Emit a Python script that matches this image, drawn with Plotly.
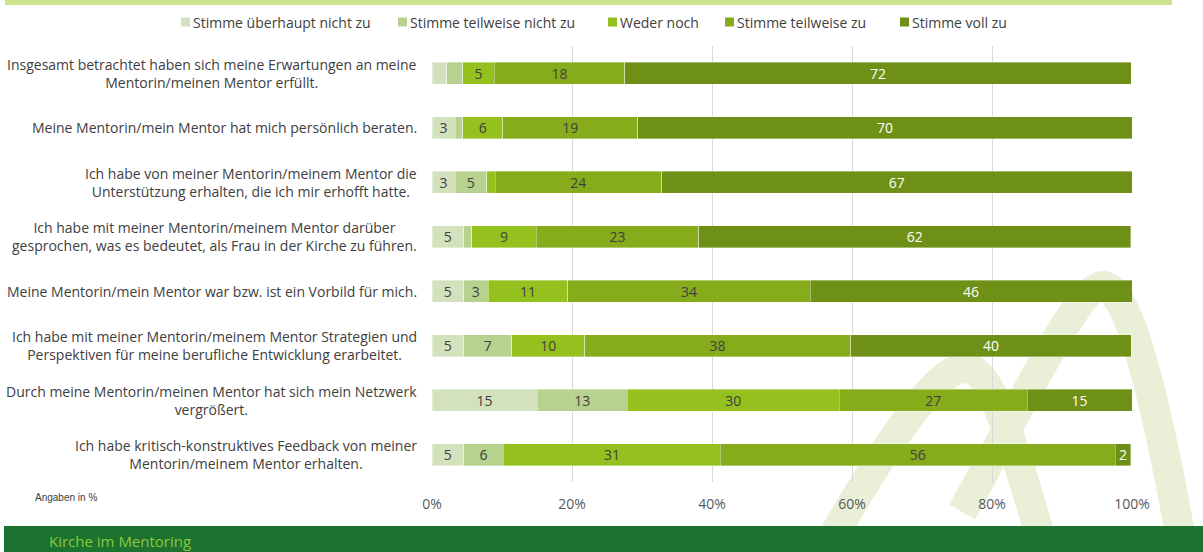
import plotly.graph_objects as go

# ---------------- data ----------------
categories = [
    "Insgesamt betrachtet haben sich meine Erwartungen an meine<br>Mentorin/meinen Mentor erfüllt.",
    "Meine Mentorin/mein Mentor hat mich persönlich beraten.",
    "Ich habe von meiner Mentorin/meinem Mentor die<br>Unterstützung erhalten, die ich mir erhofft hatte.",
    "Ich habe mit meiner Mentorin/meinem Mentor darüber<br>gesprochen, was es bedeutet, als Frau in der Kirche zu führen.",
    "Meine Mentorin/mein Mentor war bzw. ist ein Vorbild für mich.",
    "Ich habe mit meiner Mentorin/meinem Mentor Strategien und<br>Perspektiven für meine berufliche Entwicklung erarbeitet.",
    "Durch meine Mentorin/meinen Mentor hat sich mein Netzwerk<br>vergrößert.",
    "Ich habe kritisch-konstruktives Feedback von meiner<br>Mentorin/meinem Mentor erhalten.",
]

series_names = [
    "Stimme überhaupt nicht zu",
    "Stimme teilweise nicht zu",
    "Weder noch",
    "Stimme teilweise zu",
    "Stimme voll zu",
]

v_ueberhaupt_nicht = [2.1, 3.3, 3.3, 4.5, 4.5, 4.5, 15.0, 4.5]
v_teilweise_nicht = [2.3, 1.1, 4.5, 1.2, 3.5, 6.9, 12.9, 5.7]
v_weder_noch = [4.5, 5.7, 1.2, 9.2, 11.4, 10.4, 30.3, 31.0]
v_teilweise_zu = [18.6, 19.3, 23.8, 23.2, 34.6, 38.0, 26.8, 56.4]
v_voll_zu = [72.4, 70.6, 67.2, 61.7, 46.0, 40.1, 15.0, 2.2]

l_ueberhaupt_nicht = ["", "3", "3", "5", "5", "5", "15", "5"]
l_teilweise_nicht = ["", "", "5", "", "3", "7", "13", "6"]
l_weder_noch = ["5", "6", "", "9", "11", "10", "30", "31"]
l_teilweise_zu = ["18", "19", "24", "23", "34", "38", "27", "56"]
l_voll_zu = ["72", "70", "67", "62", "46", "40", "15", "2"]

tick_vals = [0, 20, 40, 60, 80, 100]
tick_text = ["0%", "20%", "40%", "60%", "80%", "100%"]

# ---------------- style ----------------
colors = ["#D3E1BD", "#B6D28E", "#95C11F", "#86AB1B", "#6F9017"]
label_colors = ["#404040", "#404040", "#404040", "#404040", "#FFFFFF"]
FONT = "Open Sans, Liberation Sans, Arial, sans-serif"

WIDTH, HEIGHT = 1203, 552
L, R, T, B = 432, 71, 46, 70
PW = WIDTH - L - R
PH = HEIGHT - T - B

legend_marker_px = [181, 398, 608, 725, 900]   # layout: left edge of each legend swatch
LEGEND_Y = 22


def px_x(p):
    return (p - L) / PW


def px_y(p):
    return (HEIGHT - B - p) / PH


values = [v_ueberhaupt_nicht, v_teilweise_nicht, v_weder_noch, v_teilweise_zu, v_voll_zu]
labels = [l_ueberhaupt_nicht, l_teilweise_nicht, l_weder_noch, l_teilweise_zu, l_voll_zu]

fig = go.Figure()
for name, vals, labs, col, lcol in zip(series_names, values, labels, colors, label_colors):
    fig.add_trace(go.Bar(
        y=categories, x=vals, name=name, orientation="h",
        marker=dict(color=col, line=dict(color="rgba(255,255,255,0.45)", width=0.8)),
        text=labs, textposition="inside", insidetextanchor="middle", textangle=0,
        textfont=dict(family=FONT, size=14, color=lcol),
        hoverinfo="skip", showlegend=False,
    ))

annotations = []
shapes = []

# category labels (centered multi-line, right aligned block)
for c in categories:
    annotations.append(dict(
        x=0, xref="paper", y=c, yref="y", text=c, showarrow=False,
        xanchor="right", xshift=-13, align="center",
        font=dict(family=FONT, size=14, color="#404040"),
    ))

# legend (drawn manually for compact spacing)
for name, col, mx in zip(series_names, colors, legend_marker_px):
    shapes.append(dict(type="rect", xref="paper", yref="paper",
                       x0=px_x(mx), x1=px_x(mx + 9),
                       y0=px_y(LEGEND_Y - 4.5), y1=px_y(LEGEND_Y + 4.5),
                       fillcolor=col, line=dict(width=0), layer="above"))
    annotations.append(dict(
        x=px_x(mx + 10), xref="paper", y=px_y(LEGEND_Y), yref="paper", text=name,
        showarrow=False, xanchor="left", yanchor="middle",
        font=dict(family=FONT, size=14, color="#404040"),
    ))

annotations.append(dict(
    x=px_x(33), xref="paper", y=px_y(497), yref="paper", text="Angaben in %",
    showarrow=False, xanchor="left", yanchor="middle",
    font=dict(family="Liberation Sans, Arial, sans-serif", size=10, color="#404040"),
))
annotations.append(dict(
    x=px_x(47), xref="paper", y=px_y(541), yref="paper", text="Kirche im Mentoring",
    showarrow=False, xanchor="left", yanchor="middle",
    font=dict(family=FONT, size=15, color="#8DC63F"),
))


def path_px(cmds):
    out = []
    for c in cmds:
        if isinstance(c, str):
            out.append(c)
        else:
            out.append(f"{px_x(c[0]):.5f},{px_y(c[1]):.5f}")
    return " ".join(out)


wm_color = "#E9F0D7"
arch1 = path_px(["M", (828, 545), "C", (880, 455), (935, 368), (965, 368),
                 "C", (995, 368), (1020, 470), (1043, 545)])
arch2 = path_px(["M", (962, 512), "C", (1010, 430), (1075, 286), (1103, 286),
                 "C", (1130, 286), (1160, 420), (1182, 545)])

shapes += [
    dict(type="path", xref="paper", yref="paper", path=arch1, layer="below",
         line=dict(color=wm_color, width=30)),
    dict(type="path", xref="paper", yref="paper", path=arch2, layer="below",
         line=dict(color=wm_color, width=30)),
    # top band
    dict(type="rect", xref="paper", yref="paper", x0=px_x(5), x1=px_x(1172),
         y0=px_y(0), y1=px_y(5), fillcolor="#CDE291", line=dict(width=0), layer="above"),
    # footer
    dict(type="rect", xref="paper", yref="paper", x0=px_x(4), x1=px_x(1203),
         y0=px_y(526), y1=px_y(552), fillcolor="#1B732F", line=dict(width=0), layer="above"),
]

fig.update_layout(
    width=WIDTH, height=HEIGHT,
    margin=dict(l=L, r=R, t=T, b=B, pad=0),
    barmode="stack", bargap=0.6,
    paper_bgcolor="white", plot_bgcolor="rgba(0,0,0,0)",
    font=dict(family=FONT, size=13, color="#404040"),
    uniformtext=dict(mode="show", minsize=14),
    showlegend=False,
    xaxis=dict(range=[0, 100], tickvals=tick_vals, ticktext=tick_text,
               showgrid=True, gridcolor="#D9D9D9", gridwidth=1, zeroline=False,
               showline=False, ticks="", ticklabelstandoff=12,
               tickfont=dict(family=FONT, size=14, color="#595959"), fixedrange=True),
    yaxis=dict(categoryorder="array", categoryarray=categories, autorange="reversed",
               showticklabels=False, showgrid=False, zeroline=False, showline=False,
               fixedrange=True),
    annotations=annotations,
    shapes=shapes,
)

fig.write_html("out.html")
